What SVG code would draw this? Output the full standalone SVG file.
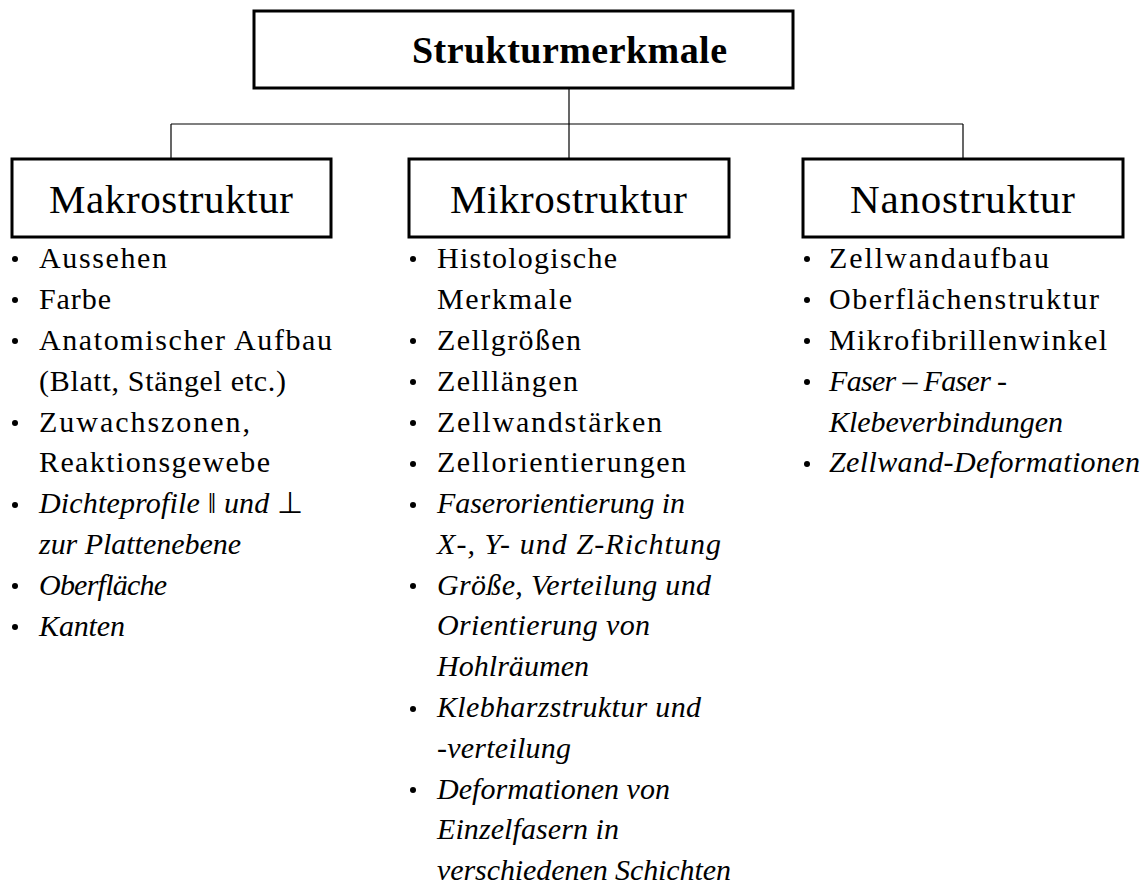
<svg xmlns="http://www.w3.org/2000/svg" width="1145" height="884" viewBox="0 0 1145 884">
<style>
.box{fill:#fff;stroke:#000;stroke-width:3}
.con{fill:none;stroke:#000;stroke-width:1.2}
.title{font-family:"Liberation Serif",serif;font-weight:bold;font-size:38px;fill:#000}
.head{font-family:"Liberation Serif",serif;font-size:41px;fill:#000}
.t{font-family:"Liberation Serif",serif;font-size:30px;fill:#000}
.i{font-style:italic}
.u{font-style:normal}
.b{fill:#000}
</style>
<rect width="1145" height="884" fill="#fff"/>
<g id="connectors">
<line class="con" x1="569" y1="88" x2="569" y2="124"/>
<line class="con" x1="171" y1="124" x2="963" y2="124"/>
<line class="con" x1="171" y1="124" x2="171" y2="158"/>
<line class="con" x1="569" y1="124" x2="569" y2="158"/>
<line class="con" x1="963" y1="124" x2="963" y2="158"/>
</g>
<g id="root">
<rect class="box" x="254" y="11" width="539" height="77"/>
<text class="title" x="412" y="63" textLength="315" lengthAdjust="spacing">Strukturmerkmale</text>
</g>
<g id="makro">
<rect class="box" x="12" y="159" width="319" height="78"/>
<text class="head" x="49" y="213" textLength="244" lengthAdjust="spacing">Makrostruktur</text>
<g class="b">
<circle cx="15" cy="259" r="3"/><circle cx="15" cy="300" r="3"/><circle cx="15" cy="341" r="3"/><circle cx="15" cy="423" r="3"/><circle cx="15" cy="505" r="3"/><circle cx="15" cy="586" r="3"/><circle cx="15" cy="627" r="3"/>
</g>
<text class="t" x="39" y="268" textLength="128" lengthAdjust="spacing">Aussehen</text>
<text class="t" x="39" y="309" textLength="72" lengthAdjust="spacing">Farbe</text>
<text class="t" x="39" y="350" textLength="293" lengthAdjust="spacing">Anatomischer Aufbau</text>
<text class="t" x="39" y="391" textLength="247" lengthAdjust="spacing">(Blatt, Stängel etc.)</text>
<text class="t" x="39" y="432" textLength="211" lengthAdjust="spacing">Zuwachszonen,</text>
<text class="t" x="39" y="472" textLength="231" lengthAdjust="spacing">Reaktionsgewebe</text>
<text class="t i" x="39" y="513" textLength="264" lengthAdjust="spacing">Dichteprofile <tspan class="u">‖</tspan> und <tspan class="u">⊥</tspan></text>
<text class="t i" x="39" y="554" textLength="202" lengthAdjust="spacing">zur Plattenebene</text>
<text class="t i" x="39" y="595" textLength="128" lengthAdjust="spacing">Oberfläche</text>
<text class="t i" x="39" y="636" textLength="86" lengthAdjust="spacing">Kanten</text>
</g>
<g id="mikro">
<rect class="box" x="409" y="159" width="320" height="78"/>
<text class="head" x="450" y="213" textLength="237" lengthAdjust="spacing">Mikrostruktur</text>
<g class="b">
<circle cx="413" cy="259" r="3"/><circle cx="413" cy="341" r="3"/><circle cx="413" cy="382" r="3"/><circle cx="413" cy="423" r="3"/><circle cx="413" cy="464" r="3"/><circle cx="413" cy="505" r="3"/><circle cx="413" cy="586" r="3"/><circle cx="413" cy="709" r="3"/><circle cx="413" cy="790" r="3"/>
</g>
<text class="t" x="437" y="268" textLength="180" lengthAdjust="spacing">Histologische</text>
<text class="t" x="437" y="309" textLength="135" lengthAdjust="spacing">Merkmale</text>
<text class="t" x="437" y="350" textLength="144" lengthAdjust="spacing">Zellgrößen</text>
<text class="t" x="437" y="391" textLength="141" lengthAdjust="spacing">Zelllängen</text>
<text class="t" x="437" y="432" textLength="225" lengthAdjust="spacing">Zellwandstärken</text>
<text class="t" x="437" y="472" textLength="249" lengthAdjust="spacing">Zellorientierungen</text>
<text class="t i" x="437" y="513" textLength="248" lengthAdjust="spacing">Faserorientierung in</text>
<text class="t i" x="437" y="554" textLength="284" lengthAdjust="spacing">X-, Y- und Z-Richtung</text>
<text class="t i" x="437" y="595" textLength="274" lengthAdjust="spacing">Größe, Verteilung und</text>
<text class="t i" x="437" y="635" textLength="213" lengthAdjust="spacing">Orientierung von</text>
<text class="t i" x="437" y="676" textLength="152" lengthAdjust="spacing">Hohlräumen</text>
<text class="t i" x="437" y="717" textLength="264" lengthAdjust="spacing">Klebharzstruktur und</text>
<text class="t i" x="437" y="758" textLength="134" lengthAdjust="spacing">-verteilung</text>
<text class="t i" x="437" y="799" textLength="233" lengthAdjust="spacing">Deformationen von</text>
<text class="t i" x="437" y="839" textLength="182" lengthAdjust="spacing">Einzelfasern in</text>
<text class="t i" x="437" y="880" textLength="294" lengthAdjust="spacing">verschiedenen Schichten</text>
</g>
<g id="nano">
<rect class="box" x="803" y="159" width="320" height="78"/>
<text class="head" x="850" y="213" textLength="225" lengthAdjust="spacing">Nanostruktur</text>
<g class="b">
<circle cx="807" cy="259" r="3"/><circle cx="807" cy="300" r="3"/><circle cx="807" cy="341" r="3"/><circle cx="807" cy="382" r="3"/><circle cx="807" cy="464" r="3"/>
</g>
<text class="t" x="829" y="268" textLength="220" lengthAdjust="spacing">Zellwandaufbau</text>
<text class="t" x="829" y="309" textLength="270" lengthAdjust="spacing">Oberflächenstruktur</text>
<text class="t" x="829" y="350" textLength="278" lengthAdjust="spacing">Mikrofibrillenwinkel</text>
<text class="t i" x="829" y="391" textLength="178" lengthAdjust="spacing">Faser – Faser -</text>
<text class="t i" x="829" y="432" textLength="234" lengthAdjust="spacing">Klebeverbindungen</text>
<text class="t i" x="829" y="472" textLength="311" lengthAdjust="spacing">Zellwand-Deformationen</text>
</g>
</svg>
